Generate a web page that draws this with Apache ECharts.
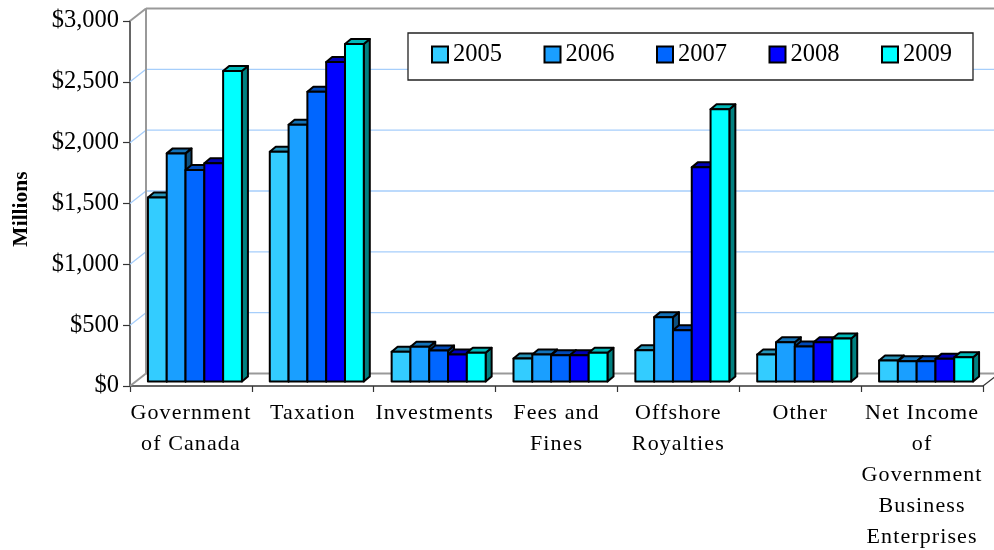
<!DOCTYPE html>
<html><head><meta charset="utf-8">
<style>html,body{margin:0;padding:0;background:#fff}#c{width:994px;height:550px}</style>
<script src="https://cdn.jsdelivr.net/npm/echarts@6/dist/echarts.min.js"></script>
</head><body><div id="c"></div>
<script>
const categories = ["Government\nof Canada","Taxation","Investments","Fees and\nFines","Offshore\nRoyalties","Other","Net Income\nof\nGovernment\nBusiness\nEnterprises"];
const years = ["2005","2006","2007","2008","2009"];
const v2005 = [1513,1889,244,189,257,222,173];
const v2006 = [1875,2111,285,222,529,323,167];
const v2007 = [1738,2382,255,216,422,288,167];
const v2008 = [1793,2626,222,216,1760,323,186];
const v2009 = [2552,2774,236,236,2237,354,200];
const yearValues = [v2005,v2006,v2007,v2008,v2009];
const yTicks = [0,500,1000,1500,2000,2500,3000];
const colors = ["#33CCFF","#1A9FFF","#0066FF","#0000FF","#00FFFF"];

// The reference's category labels are letter-spaced; canvas supports this natively.
const spaced = new Set(categories.join("\n").split("\n"));
const proto = CanvasRenderingContext2D.prototype, ft = proto.fillText;
proto.fillText = function(t,x,y,m){
  this.letterSpacing = spaced.has(t) ? "1.1px" : "0px";
  return m===undefined ? ft.call(this,t,x,y) : ft.call(this,t,x,y,m);
};

const shade = (hex,k)=>{
  const n=parseInt(hex.slice(1),16);
  return "rgb("+[(n>>16)&255,(n>>8)&255,n&255].map(c=>Math.round(c*k)).join(",")+")";
};
const DX=16, DY=12.5, dx=6, dy=5, barW=18.8, inX=4, inY=4.5;

function renderWalls(params, api){
  const cs=params.coordSys, L=cs.x, R=cs.x+cs.width;
  const kids=[];
  const line=(x1,y1,x2,y2,color,w)=>kids.push({type:"line",shape:{x1,y1,x2,y2},style:{stroke:color,lineWidth:w}});
  yTicks.forEach(t=>{
    const y=api.coord([0,t])[1];
    if(t===0){
      line(L,y,L+DX,y-DY,"#999",2);
      line(L+DX,y-DY,1000,y-DY,"#999",2);
      line(R,y,R+DX,y-DY,"#333",1.2);
    } else if(t===3000){
      line(L,y,L+DX,y-DY,"#999",2);
      line(L+DX,y-DY,1000,y-DY,"#999",2);
    } else {
      line(L,y,L+DX,y-DY,"#A6CEFB",1.3);
      line(L+DX,y-DY,1000,y-DY,"#A6CEFB",1.3);
    }
  });
  const y0=api.coord([0,0])[1], y1=api.coord([0,3000])[1];
  line(L+DX,y0-DY,L+DX,y1-DY,"#999",2);
  return {type:"group",children:kids};
}
function barRenderer(i){
  return function(params, api){
    const c=api.coord([api.value(0),api.value(1)]);
    const base=api.coord([api.value(0),0])[1]-inY;
    const y=c[1]-inY;
    const x=c[0]+inX+(i-2.5)*barW;
    const w=barW, col=colors[i];
    const st=(fill)=>({fill,stroke:"#000",lineWidth:2,lineJoin:"round"});
    return {type:"group",children:[
      {type:"polygon",shape:{points:[[x+w,y],[x+w,base],[x+w+dx,base-dy],[x+w+dx,y-dy]]},style:st(shade(col,0.5))},
      {type:"polygon",shape:{points:[[x,y],[x+w,y],[x+w+dx,y-dy],[x+dx,y-dy]]},style:st(shade(col,0.72))},
      {type:"rect",shape:{x,y,width:w,height:base-y},style:st(col)}
    ]};
  };
}
const series=[{type:"custom",name:"walls",data:[[0,0]],renderItem:renderWalls,clip:false,silent:true,z:1,animation:false}];
years.forEach((yr,i)=>series.push({
  type:"custom",name:yr,z:2+i,clip:false,animation:false,
  itemStyle:{color:colors[i]},
  encode:{x:0,y:1},
  data:yearValues[i].map((v,k)=>[k,v]),
  renderItem:barRenderer(i)
}));
const FONT='"Liberation Serif","Times New Roman",serif';
const chart=echarts.init(document.getElementById("c"),null,{renderer:"canvas"});
chart.setOption({
  animation:false,
  backgroundColor:"#fff",
  grid:{left:130,right:11,top:21,bottom:164,containLabel:false,outerBoundsMode:"none"},
  legend:{
    data:years.map(y=>({name:y,icon:"rect",itemStyle:{borderColor:"#000",borderWidth:2}})),
    left:408,top:33,orient:"horizontal",
    padding:[9,21,13,23],itemWidth:16,itemHeight:16,itemGap:41.5,
    backgroundColor:"#fff",borderColor:"#222",borderWidth:1.3,
    selectedMode:false,
    textStyle:{fontFamily:FONT,fontSize:24.5,color:"#000",padding:[0,0,0,0]}
  },
  xAxis:{type:"category",data:categories,
    axisLine:{lineStyle:{color:"#333",width:1.5}},
    axisTick:{show:true,length:6,lineStyle:{color:"#333",width:1.2}},
    axisLabel:{interval:0,fontFamily:FONT,fontSize:22,color:"#000",lineHeight:31,margin:11.5,hideOverlap:false},
    splitLine:{show:false}},
  yAxis:{type:"value",min:0,max:3000,interval:500,
    name:"Millions",nameLocation:"middle",nameGap:98,nameRotate:90,
    nameTextStyle:{fontFamily:FONT,fontSize:21.5,fontWeight:"bold",color:"#000",padding:[0,11,0,0]},
    axisLine:{show:true,lineStyle:{color:"#333",width:1.5}},
    axisTick:{show:true,length:7,lineStyle:{color:"#333",width:1.2}},
    axisLabel:{fontFamily:FONT,fontSize:24.5,color:"#000",margin:11,formatter:v=>"$"+v.toLocaleString("en-US")},
    splitLine:{show:false}},
  series
});
</script></body></html>
